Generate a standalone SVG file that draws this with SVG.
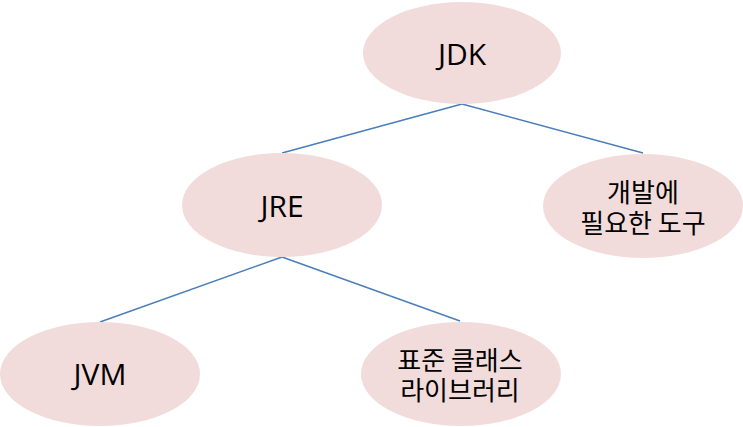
<svg xmlns="http://www.w3.org/2000/svg" width="743" height="427" viewBox="0 0 743 427">
<style>
.node ellipse{fill:#f2dcdb;stroke:none}
.lbl{font-family:"Open Sans","Noto Sans CJK KR",sans-serif;font-size:30px;fill:#000;text-anchor:middle}
.kr{font-family:"Noto Sans CJK KR","Noto Sans",sans-serif;font-size:26px;fill:#000;text-anchor:middle}
.edges line{stroke:#4a7ebb;stroke-width:1.5}
</style>
<rect width="743" height="427" fill="#fff"/>
<g class="edges" id="connectors">
<line x1="462" y1="104" x2="282" y2="153"/>
<line x1="462" y1="104" x2="643" y2="153"/>
<line x1="282" y1="257" x2="100" y2="322"/>
<line x1="282" y1="257" x2="460" y2="321"/>
</g>
<g class="node" id="jdk"><ellipse cx="462" cy="53" rx="99" ry="51"/><text class="lbl" x="462" y="65">JDK</text></g>
<g class="node" id="jre"><ellipse cx="282" cy="205" rx="100" ry="52"/><text class="lbl" x="282" y="217">JRE</text></g>
<g class="node" id="tools"><ellipse cx="643" cy="206" rx="100" ry="52"/><text class="kr" x="643" y="202">개발에</text><text class="kr" x="643" y="233">필요한 도구</text></g>
<g class="node" id="jvm"><ellipse cx="100" cy="374" rx="100" ry="52"/><text class="lbl" x="100" y="385">JVM</text></g>
<g class="node" id="lib"><ellipse cx="461" cy="374" rx="100" ry="52"/><text class="kr" x="460" y="370">표준 클래스</text><text class="kr" x="460" y="400">라이브러리</text></g>
</svg>
